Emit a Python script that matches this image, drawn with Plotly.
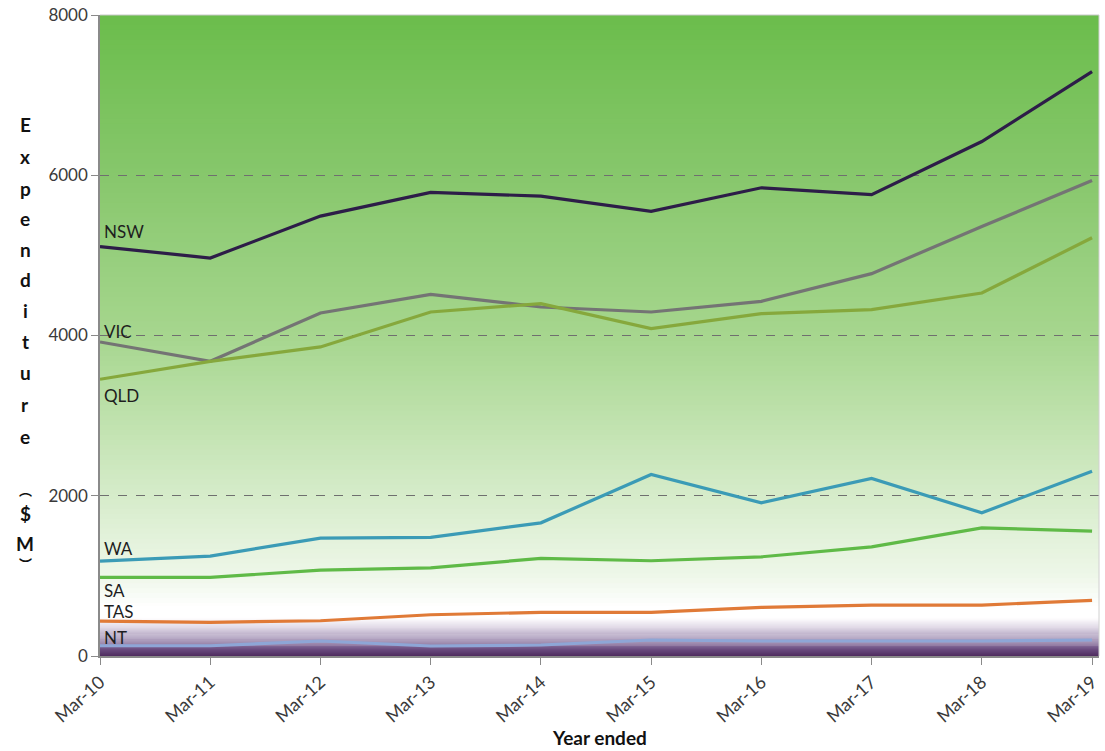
import plotly.graph_objects as go

years = ["Mar-10", "Mar-11", "Mar-12", "Mar-13", "Mar-14", "Mar-15", "Mar-16", "Mar-17", "Mar-18", "Mar-19"]
nsw = [5110, 4967, 5490, 5786, 5740, 5549, 5844, 5757, 6421, 7294]
vic = [3919, 3678, 4281, 4514, 4356, 4293, 4426, 4772, 5360, 5935]
qld = [3454, 3678, 3857, 4293, 4398, 4086, 4273, 4323, 4530, 5220]
wa = [1185, 1247, 1471, 1480, 1662, 2265, 1912, 2216, 1787, 2307]
sa = [981, 981, 1072, 1101, 1218, 1189, 1238, 1363, 1600, 1559]
tas = [436, 420, 440, 515, 545, 545, 607, 636, 636, 694]
nt = [128, 128, 187, 125, 137, 200, 187, 187, 187, 200]

series = [
    ("NSW", nsw, "#2d1d48"),
    ("VIC", vic, "#747474"),
    ("QLD", qld, "#86a83c"),
    ("WA", wa, "#3b9bb6"),
    ("SA", sa, "#5fba47"),
    ("TAS", tas, "#e07a37"),
    ("NT", nt, "#8ea6d6"),
]
label_dy = {"NSW": 15, "VIC": 10, "QLD": -16, "WA": 13, "SA": -13, "TAS": 10, "NT": 8}

fig = go.Figure()

# background gradient (style only)
def lerp(c1, c2, t):
    return tuple(round(a + (b - a) * t) for a, b in zip(c1, c2))

def hex2rgb(h):
    h = h.lstrip("#")
    return tuple(int(h[i:i + 2], 16) for i in (0, 2, 4))

green_stops = [(600, "#ffffff"), (1000, "#eef7e9"), (2000, "#d6ecca"), (4000, "#a6d68e"), (6000, "#87c76c"), (8000, "#6bbd4c")]
purple_stops = [(0, "#4f2c5f"), (80, "#6a4a7e"), (200, "#a493b5"), (360, "#e2dbe8"), (480, "#ffffff")]

def add_gradient(stops, n):
    lo, hi = stops[0][0], stops[-1][0]
    step = (hi - lo) / n
    for i in range(n):
        y0 = lo + i * step
        y1 = y0 + step
        ym = (y0 + y1) / 2
        for j in range(len(stops) - 1):
            if stops[j][0] <= ym <= stops[j + 1][0]:
                t = (ym - stops[j][0]) / (stops[j + 1][0] - stops[j][0])
                c = lerp(hex2rgb(stops[j][1]), hex2rgb(stops[j + 1][1]), t)
                break
        fig.add_shape(type="rect", xref="paper", yref="y", x0=0, x1=1, y0=y0, y1=y1 + step * 0.3,
                      fillcolor="rgb(%d,%d,%d)" % c, line_width=0, layer="below")

add_gradient(green_stops, 120)
add_gradient(purple_stops, 40)
fig.add_shape(type="rect", xref="paper", yref="y", x0=0, x1=1, y0=480, y1=620,
              fillcolor="#ffffff", line_width=0, layer="below")

for name, vals, color in series:
    fig.add_trace(go.Scatter(x=years, y=vals, mode="lines", name=name,
                             line=dict(color=color, width=3.2), showlegend=False, hoverinfo="skip"))
    fig.add_annotation(x=years[0], y=vals[0], text=name, showarrow=False, xanchor="left",
                       yanchor="middle", xshift=2, yshift=label_dy[name],
                       font=dict(family="Lato, Open Sans, sans-serif", size=17, color="#1e1e1e"))

# stacked vertical axis title
title_chars = [("E", 125), ("x", 157), ("p", 188), ("e", 218), ("n", 249), ("d", 280), ("i", 310),
               ("t", 341), ("u", 372), ("r", 404), ("e", 436), ("︵", 489), ("$", 513), ("M", 543), ("︶", 563)]
for ch, py in title_chars:
    paren = ch in "︵︶"
    fig.add_annotation(xref="paper", yref="paper", x=(25 - 100) / 1001, y=1 - (py - 15) / 641,
                       text="<b>%s</b>" % ch, showarrow=False, xanchor="center", yanchor="middle",
                       font=dict(family="Noto Sans CJK SC, sans-serif" if paren else "Lato, Open Sans, sans-serif",
                                 size=13 if paren else 19, color="#111111"))

fig.add_annotation(xref="paper", yref="paper", x=0.5, y=1 - (737 - 15) / 641, text="<b>Year ended</b>",
                   showarrow=False, xanchor="center", yanchor="middle",
                   font=dict(family="Lato, Open Sans, sans-serif", size=19, color="#111111"))

fig.update_layout(
    width=1105, height=751,
    margin=dict(l=100, r=4, t=15, b=95),
    paper_bgcolor="white", plot_bgcolor="white",
    xaxis=dict(type="category", categoryorder="array", categoryarray=years, range=[0, 9.063],
               tickangle=-42, ticks="outside", ticklen=7, tickcolor="#8a8a8a",
               showline=True, linecolor="#8a8a8a", linewidth=1.5, showgrid=False,
               tickfont=dict(family="Lato, Open Sans, sans-serif", size=18, color="#3a3a3a")),
    yaxis=dict(range=[0, 8000], tickvals=[0, 2000, 4000, 6000, 8000], ticks="outside", ticklen=7,
               tickcolor="#8a8a8a", showline=True, linecolor="#8a8a8a", linewidth=1.5,
               showgrid=True, gridcolor="#6f6f6f", griddash="dash", gridwidth=0.8, zeroline=False,
               tickfont=dict(family="Lato, Open Sans, sans-serif", size=17, color="#3a3a3a")),
)
fig.add_shape(type="line", xref="paper", yref="paper", x0=0, x1=1, y0=1, y1=1,
              line=dict(color="#c8c8c8", width=1))
fig.add_shape(type="line", xref="paper", yref="paper", x0=1, x1=1, y0=0, y1=1,
              line=dict(color="#d0d0d0", width=1))

fig.write_html("out.html")
